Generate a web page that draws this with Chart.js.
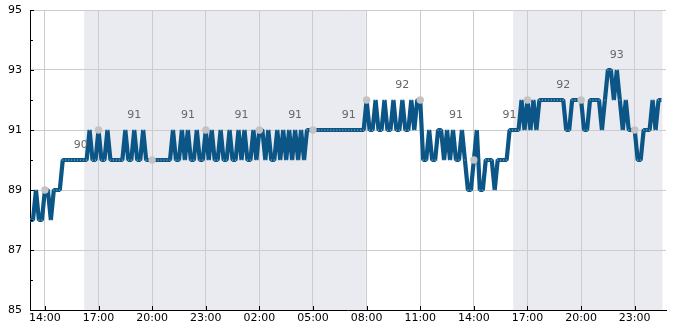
<!DOCTYPE html>
<html>
<head>
<meta charset="utf-8">
<script src="https://cdn.jsdelivr.net/npm/chart.js@4"></script>
<style>
  html, body { margin: 0; padding: 0; background: #fff; }
</style>
</head>
<body>
<canvas id="chart" width="685" height="330"></canvas>
<script>
// hours are counted from 14:00 on the first day
const sampleStart = -5 / 6;   // 13:10
const sampleStep = 1 / 6;     // one reading every 10 minutes

const readings = [
  88, 88, 89, 88, 88, 89, 89, 88, 89, 89, 89,
  90, 90, 90, 90, 90, 90, 90, 90, 90,
  91, 90, 90, 91, 90, 90, 91, 90, 90, 90, 90, 90,
  91, 90, 90, 91, 90, 90, 91, 90, 90, 90, 90, 90, 90, 90, 90, 90,
  91, 90, 90, 91, 90, 91, 90, 90, 91, 90, 90, 91, 90, 91, 90, 90,
  91, 90, 90, 91, 90, 90, 91, 90, 91, 90, 90, 91, 90, 91, 91, 90,
  91, 90, 90, 91, 90, 91, 90, 91, 90, 91, 90, 91, 90,
  91, 91, 91, 91, 91, 91, 91, 91, 91, 91, 91, 91, 91, 91, 91, 91, 91, 91, 91, 91,
  92, 91, 91, 92, 91, 91, 92, 91, 91, 92, 91, 91, 92, 91, 91, 92, 91, 92, 92,
  90, 90, 91, 90, 90, 91, 91, 90, 91, 90, 91, 90, 90, 91, 90,
  89, 89, 90, 91, 89, 89, 90, 90, 90, 89, 90, 90, 90, 90, 91, 91, 91,
  91, 92, 91, 92, 91, 92, 91, 92,
  92, 92, 92, 92, 92, 92, 92, 92,
  91, 91, 92, 92, 92, 92, 91, 91, 92, 92, 92, 92, 91, 92,
  93, 93, 92, 93, 92, 91, 92, 91, 91, 91, 90, 90, 91, 91, 91, 92, 91, 92, 92
];

// grey markers every 3 hours
const markerHours = [0, 3, 6, 9, 12, 15, 18, 21, 24, 27, 30, 33];
const markerValues = [89, 91, 90, 91, 91, 91, 92, 92, 90, 92, 92, 91];

// value labels
const labelHours = [2, 5, 8, 11, 14, 17, 20, 23, 26, 29, 32];
const labelValues = [90, 91, 91, 91, 91, 91, 92, 91, 91, 92, 93];

// shaded periods [from, to]
const shadeBands = [[2.2, 17.95], [26.2, 34.55]];

const xTicks = [0, 3, 6, 9, 12, 15, 18, 21, 24, 27, 30, 33];
const yMinorTicks = [86, 88, 90, 92, 94];

const linePoints = readings.map((v, i) => ({ x: sampleStart + i * sampleStep, y: v }));
const markerPoints = markerHours.map((h, i) => ({ x: h, y: markerValues[i] }));

const FONT = 'DejaVu Sans';

const decorations = {
  id: 'decorations',
  beforeDraw(chart) {
    const { ctx, chartArea, scales } = chart;
    ctx.save();
    ctx.fillStyle = '#eaebf0';
    shadeBands.forEach(([a, b]) => {
      const x1 = scales.x.getPixelForValue(a);
      const x2 = scales.x.getPixelForValue(b);
      ctx.fillRect(x1, chartArea.top, x2 - x1, chartArea.bottom - chartArea.top);
    });
    ctx.restore();
  },
  afterDraw(chart) {
    const { ctx, chartArea, scales } = chart;
    ctx.save();
    // value labels
    ctx.fillStyle = '#666';
    ctx.font = '11px "' + FONT + '"';
    ctx.textAlign = 'center';
    ctx.textBaseline = 'middle';
    labelHours.forEach((h, i) => {
      ctx.fillText(String(labelValues[i]), scales.x.getPixelForValue(h), scales.y.getPixelForValue(labelValues[i] + 0.5));
    });
    // inward tick marks
    ctx.strokeStyle = '#000';
    ctx.lineWidth = 1;
    ctx.beginPath();
    scales.y.ticks.forEach(t => {
      const y = Math.round(scales.y.getPixelForValue(t.value)) + 0.5;
      ctx.moveTo(chartArea.left, y);
      ctx.lineTo(chartArea.left + 4, y);
    });
    yMinorTicks.forEach(v => {
      const y = Math.round(scales.y.getPixelForValue(v)) + 0.5;
      ctx.moveTo(chartArea.left, y);
      ctx.lineTo(chartArea.left + 3, y);
    });
    xTicks.forEach(h => {
      const x = Math.round(scales.x.getPixelForValue(h)) + 0.5;
      ctx.moveTo(x, chartArea.bottom);
      ctx.lineTo(x, chartArea.bottom - 4);
    });
    ctx.stroke();
    ctx.restore();
  }
};

new Chart(document.getElementById('chart'), {
  type: 'line',
  data: {
    datasets: [
      {
        data: markerPoints,
        showLine: false,
        pointRadius: 3.7,
        pointBackgroundColor: '#c3c3c3',
        pointBorderWidth: 0,
        order: 0
      },
      {
        data: linePoints,
        borderColor: '#0b5686',
        borderWidth: 4.2,
        borderJoinStyle: 'bevel',
        tension: 0,
        pointRadius: 0.6,
        pointBackgroundColor: 'rgba(255,255,255,0.75)',
        pointBorderWidth: 0,
        order: 1
      }
    ]
  },
  options: {
    responsive: false,
    animation: false,
    events: [],
    layout: { padding: { top: 10, right: 19, left: 0, bottom: 0 } },
    plugins: { legend: { display: false }, tooltip: { enabled: false } },
    scales: {
      x: {
        type: 'linear',
        min: -5 / 6,
        max: 34.75,
        afterBuildTicks(scale) { scale.ticks = xTicks.map(v => ({ value: v })); },
        afterFit(scale) { scale.height = 20; },
        grid: { color: '#cccccc', drawTicks: false },
        border: { color: '#000', width: 1 },
        ticks: {
          padding: 2,
          color: '#000',
          font: { family: FONT, size: 11 },
          maxRotation: 0,
          autoSkip: false,
          callback: v => String((14 + v) % 24).padStart(2, '0') + ':00'
        }
      },
      y: {
        min: 85,
        max: 95,
        afterFit(scale) {
          scale.width = 30;
          scale.paddingTop = 0;
          scale.paddingBottom = 0;
        },
        grid: { color: '#cccccc', drawTicks: false },
        border: { color: '#000', width: 1 },
        ticks: {
          stepSize: 2,
          padding: 8,
          color: '#000',
          font: { family: FONT, size: 11 }
        }
      }
    }
  },
  plugins: [decorations]
});
</script>
</body>
</html>
